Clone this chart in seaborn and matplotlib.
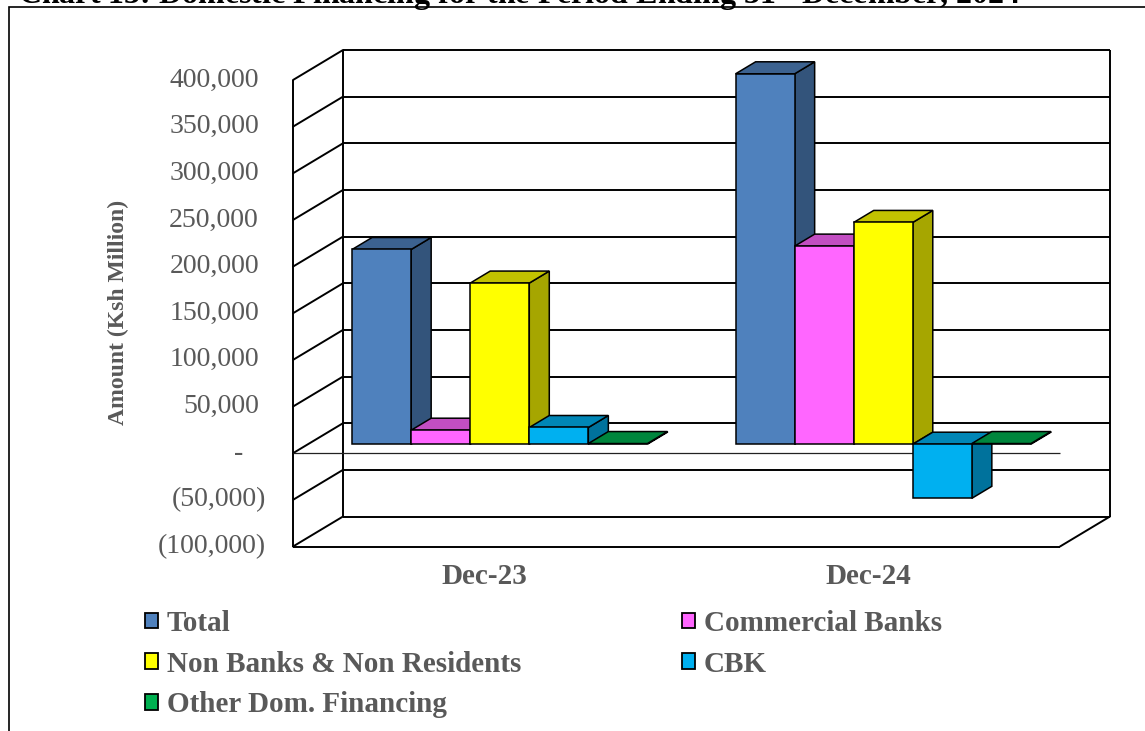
import numpy as np
import pandas as pd
import matplotlib
matplotlib.use("Agg")
import matplotlib.pyplot as plt
import matplotlib.colors as mcolors
from matplotlib import transforms
from matplotlib.patches import Polygon, Patch, Rectangle
import seaborn as sns

# ---- data (Ksh million) ----
periods = ["Dec-23", "Dec-24"]
series = ["Total", "Commercial Banks", "Non Banks & Non Residents", "CBK",
          "Other Dom. Financing"]
total = [208700, 397000]
commercial_banks = [15000, 212300]
non_banks_non_residents = [172700, 237700]
cbk = [17900, -58000]
other_dom_financing = [700, 700]
y_ticks = list(range(-100000, 400001, 50000))

series_colors = ["#4F81BD", "#FF66FF", "#FFFF00", "#00B0F0", "#00B050"]
TEXT_GRAY = "#595959"

values = {
    "Total": total,
    "Commercial Banks": commercial_banks,
    "Non Banks & Non Residents": non_banks_non_residents,
    "CBK": cbk,
    "Other Dom. Financing": other_dom_financing,
}
df = pd.DataFrame(
    [(p, s, values[s][i]) for s in series for i, p in enumerate(periods)],
    columns=["Period", "Series", "Amount"],
)


def excel_label(v):
    if v > 0:
        return f"{v:,}"
    if v < 0:
        return f"({-v:,})"
    return "-"


sns.set_theme(style="white")
plt.rcParams["font.family"] = ["Liberation Serif", "DejaVu Serif"]

# ---- figure / oblique 3-D frame layout (pixels) ----
W_PX, H_PX, DPI = 1145, 731, 100
fig = plt.figure(figsize=(W_PX / DPI, H_PX / DPI), dpi=DPI)
fig.patch.set_facecolor("white")

AX_L, AX_T, AX_R, AX_B = 293, 50, 1110, 546.5
DEPTH_PX = (50, 30)              # screen offset of the back wall
BAR_FRONT, BAR_DEPTH = 0.3, 0.4  # bar position / thickness as depth fractions

ax = fig.add_axes([AX_L / W_PX, 1 - AX_B / H_PX,
                   (AX_R - AX_L) / W_PX, (AX_B - AX_T) / H_PX])
n = len(periods)
ymin, ymax = y_ticks[0], y_ticks[-1]
x_per_px = n / ((AX_R - AX_L) - DEPTH_PX[0])
y_per_px = (ymax - ymin) / ((AX_B - AX_T) - DEPTH_PX[1])
DX = DEPTH_PX[0] * x_per_px
DY = DEPTH_PX[1] * y_per_px
x_lo, x_hi = -0.5, n - 0.5

# ---- bars (front faces) ----
sns.barplot(data=df, x="Period", y="Amount", hue="Series", order=periods,
            hue_order=series, palette=series_colors, saturation=1,
            width=0.77, gap=0, edgecolor="black", linewidth=1.1,
            errorbar=None, legend=False, ax=ax)

ax.set_xlim(x_lo, x_hi + DX)
ax.set_ylim(ymin, ymax + DY)

# ---- walls, floor and gridlines ----
WALL = dict(color="black", lw=1.4, clip_on=False, zorder=2)
ax.hlines([v + DY for v in y_ticks], x_lo + DX, x_hi + DX, **WALL)
for v in y_ticks:
    ax.plot([x_lo, x_lo + DX], [v, v + DY], **WALL)
ax.vlines(x_lo, ymin, ymax, **WALL)
ax.vlines([x_lo + DX, x_hi + DX], ymin + DY, ymax + DY, **WALL)
ax.hlines(ymin, x_lo, x_hi, **WALL)
ax.plot([x_hi, x_hi + DX], [ymin, ymin + DY], **WALL)
ax.hlines(0, x_lo, x_hi, color="#222222", lw=0.9, clip_on=False, zorder=4)

# ---- extrude bars into boxes ----
bars = sorted(ax.patches, key=lambda p: p.get_x())
ddx, ddy = BAR_DEPTH * DX, BAR_DEPTH * DY
for k, p in enumerate(bars):
    base = 10 + 4 * k
    x0 = p.get_x() + BAR_FRONT * DX
    y0 = p.get_y() + BAR_FRONT * DY
    w, h = p.get_width(), p.get_height()
    p.set_x(x0)
    p.set_y(y0)
    p.set_zorder(base + 3)
    p.set_clip_on(False)
    face = np.array(mcolors.to_rgb(p.get_facecolor()))
    top_y, bot_y = y0 + max(h, 0), y0 + min(h, 0)
    top = Polygon([(x0, top_y), (x0 + w, top_y), (x0 + w + ddx, top_y + ddy),
                   (x0 + ddx, top_y + ddy)], closed=True,
                  facecolor=face * 0.76, edgecolor="black", lw=1.1,
                  zorder=base + 2, clip_on=False)
    side = Polygon([(x0 + w, bot_y), (x0 + w + ddx, bot_y + ddy),
                    (x0 + w + ddx, top_y + ddy), (x0 + w, top_y)], closed=True,
                   facecolor=face * 0.65, edgecolor="black", lw=1.1,
                   zorder=base + 1, clip_on=False)
    ax.add_patch(side)
    ax.add_patch(top)

# ---- axes text ----
for s in ax.spines.values():
    s.set_visible(False)
ax.set_yticks([])
ax.set_xlabel("")
ax.set_ylabel("")
ax.set_xticks(range(n), periods, fontsize=21, fontweight="bold", color=TEXT_GRAY)
ax.tick_params(axis="x", length=0, pad=12)

label_trans = ax.get_yaxis_transform()
for v in y_ticks:
    pad = 27 if v < 0 else (34 if v > 0 else 50)
    t = transforms.offset_copy(label_trans, fig=fig, x=-pad, y=0, units="dots")
    ax.text(0, v, excel_label(v), transform=t, ha="right", va="center",
            fontsize=20, color=TEXT_GRAY, clip_on=False)

fig.text(118 / W_PX, 1 - 312 / H_PX, "Amount (Ksh Million)", rotation=90,
         ha="center", va="center", fontsize=17, fontweight="bold",
         color=TEXT_GRAY)

# ---- legend: two columns, filled row by row ----
handles = {s: Patch(facecolor=c, edgecolor="black", linewidth=1.3)
           for s, c in zip(series, series_colors)}
leg_kw = dict(frameon=False, handlelength=0.45, handleheight=0.45,
              handletextpad=0.3, labelspacing=0.47, borderpad=0,
              borderaxespad=0, loc="upper left", labelcolor=TEXT_GRAY,
              prop=dict(weight="bold", size=21))
col1 = ["Total", "Non Banks & Non Residents", "Other Dom. Financing"]
col2 = ["Commercial Banks", "CBK"]
fig.legend([handles[s] for s in col1], col1,
           bbox_to_anchor=(145 / W_PX, 1 - 610 / H_PX), **leg_kw)
fig.legend([handles[s] for s in col2], col2,
           bbox_to_anchor=(682 / W_PX, 1 - 610 / H_PX), **leg_kw)

# ---- page title (runs off the top edge) and frame ----
fig.text(18 / W_PX, 1 - 4 / H_PX,
         "Chart 13: Domestic Financing for the Period Ending 31$^{\\mathbf{st}}$ December, 2024",
         ha="left", va="baseline", fontsize=23, fontweight="bold",
         color="black", math_fontfamily="stix")
fig.add_artist(Rectangle((8.5 / W_PX, -0.1), 1.2, 1.1 - 7.5 / H_PX,
                         transform=fig.transFigure, fill=False,
                         edgecolor="black", lw=1.2, clip_on=False))

fig.savefig("out.png", dpi=DPI)
